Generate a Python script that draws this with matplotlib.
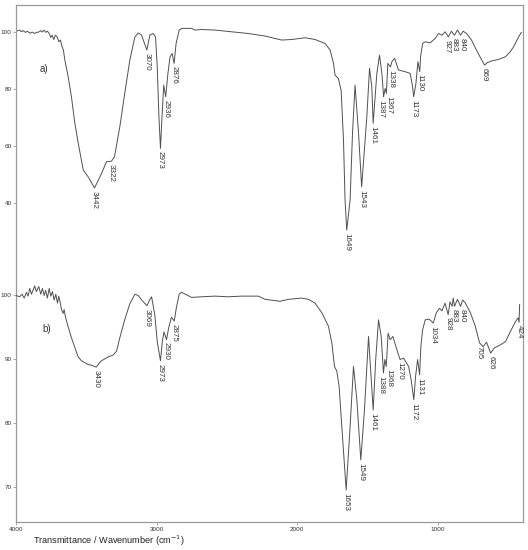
import numpy as np
import matplotlib
matplotlib.use('Agg')
import matplotlib.pyplot as plt

plt.rcParams['font.family'] = ['Liberation Sans', 'DejaVu Sans']

# --- spectrum a) ---
wn_a = [4000, 3974, 3962, 3949, 3933, 3919, 3902, 3885, 3867, 3855, 3838, 3824, 3814,
        3800, 3789, 3776, 3764, 3753, 3743, 3732, 3720, 3707, 3696, 3684, 3672, 3663,
        3653, 3629, 3606, 3582, 3558, 3522, 3487, 3442, 3392, 3357, 3322, 3300, 3262,
        3227, 3191, 3155, 3131, 3108, 3070, 3048, 3024, 3008, 2996, 2984, 2973, 2962,
        2950, 2936, 2920, 2905, 2890, 2876, 2862, 2840, 2820, 2752, 2728, 2680, 2586,
        2467, 2348, 2230, 2111, 2040, 1945, 1874, 1803, 1767, 1743, 1732, 1708, 1689,
        1672, 1661, 1649, 1625, 1608, 1590, 1565, 1543, 1506, 1487, 1471, 1461, 1435,
        1416, 1399, 1387, 1376, 1367, 1357, 1338, 1328, 1309, 1293, 1281, 1234, 1198,
        1181, 1173, 1157, 1143, 1130, 1124, 1110, 1091, 1056, 1020, 996, 972, 949, 927,
        905, 883, 862, 840, 822, 797, 762, 727, 696, 669, 652, 617, 570, 522, 487, 463,
        439, 427, 408]
tr_a = [100.2, 100.6, 100.0, 100.4, 99.8, 100.2, 99.5, 99.9, 99.4, 99.8, 99.9, 100.4, 99.9,
        100.6, 99.8, 100.2, 99.4, 98.0, 98.8, 97.3, 98.8, 98.2, 96.5, 97.1, 94.7, 93.6,
        90.1, 84.2, 77.2, 68.0, 61.0, 51.5, 49.1, 45.2, 50.3, 54.4, 54.6, 56.1, 66.7,
        78.4, 90.0, 98.2, 99.6, 98.9, 93.6, 98.9, 99.4, 98.2, 87.7, 70.2, 59.1, 70.2,
        81.3, 77.2, 85.4, 91.2, 92.4, 88.9, 95.9, 100.6, 101.2, 101.2, 100.6, 100.8, 100.6,
        100.0, 99.4, 98.5, 97.1, 97.3, 97.9, 97.3, 95.9, 93.6, 88.9, 84.8, 83.6, 79.5,
        62.0, 41.0, 30.4, 41.0, 64.4, 81.3, 64.4, 45.6, 70.2, 87.2, 80.7, 67.9, 85.4,
        91.8, 85.4, 77.2, 80.1, 78.4, 88.9, 87.7, 89.5, 90.7, 88.3, 86.6, 86.0, 85.4,
        80.7, 77.2, 81.9, 89.5, 86.0, 91.2, 95.9, 96.5, 96.1, 97.7, 99.4, 98.8, 100.0, 98.2,
        100.2, 98.8, 100.6, 98.8, 100.2, 99.4, 97.1, 93.6, 90.7, 88.3, 89.1, 89.8, 90.3, 91.2, 93.0, 94.7,
        97.1, 98.2, 99.8]
peaks_a = [3442, 3322, 3070, 2973, 2936, 2876, 1649, 1543, 1461, 1387, 1367, 1338,
           1173, 1130, 927, 883, 840, 669]

# --- spectrum b) ---
wn_b = [4000, 3974, 3957, 3942, 3926, 3914, 3902, 3890, 3878, 3867, 3855, 3838, 3824,
        3812, 3800, 3789, 3777, 3764, 3753, 3741, 3729, 3717, 3705, 3696, 3684, 3677,
        3665, 3658, 3648, 3629, 3606, 3582, 3558, 3535, 3511, 3487, 3463, 3430, 3405,
        3392, 3369, 3345, 3309, 3285, 3262, 3226, 3191, 3155, 3131, 3107, 3069, 3050,
        3036, 3013, 2996, 2973, 2960, 2948, 2930, 2915, 2895, 2875, 2860, 2840, 2823,
        2752, 2680, 2586, 2490, 2396, 2277, 2230, 2123, 2063, 1969, 1921, 1874, 1826,
        1779, 1755, 1736, 1720, 1703, 1684, 1653, 1625, 1601, 1577, 1549, 1523, 1494,
        1461, 1443, 1423, 1404, 1388, 1378, 1368, 1355, 1340, 1321, 1292, 1270, 1245,
        1209, 1191, 1172, 1160, 1145, 1131, 1122, 1110, 1091, 1063, 1034, 1012, 990,
        972, 950, 928, 915, 900, 892, 883, 862, 840, 825, 805, 770, 735, 705, 680, 655,
        626, 600, 555, 520, 485, 450, 431, 424, 420]
tr_b = [100.0, 99.8, 100.2, 99.6, 100.5, 99.9, 101.1, 100.2, 100.9, 101.5, 100.6, 101.4,
        100.2, 101.1, 100.0, 100.8, 99.6, 101.1, 99.9, 100.6, 99.3, 100.2, 98.8, 99.9,
        98.7, 97.8, 97.2, 97.8, 96.6, 95.1, 93.4, 91.9, 90.4, 89.8, 89.5, 89.2, 89.1,
        88.8, 89.5, 89.8, 90.1, 90.4, 90.7, 91.3, 93.4, 96.3, 98.7, 100.2, 100.0, 99.3,
        98.4, 99.3, 99.8, 96.9, 92.8, 89.8, 92.8, 94.3, 93.1, 94.9, 96.6, 96.0, 98.1,
        100.2, 100.5, 99.7, 99.8, 99.9, 99.8, 99.9, 99.9, 99.4, 99.1, 99.4, 99.6, 99.4,
        98.8, 97.3, 95.2, 92.6, 88.9, 88.2, 85.8, 79.5, 69.6, 79.5, 88.9, 83.7, 74.3,
        82.1, 93.6, 82.1, 90.0, 96.2, 93.6, 87.9, 90.0, 88.9, 94.1, 93.1, 93.6, 91.5,
        90.0, 90.2, 88.9, 86.8, 83.7, 87.3, 90.0, 87.6, 92.0, 94.6, 96.2, 96.3, 95.7,
        97.3, 98.0, 97.6, 98.8, 97.0, 99.0, 98.3, 99.6, 98.3, 99.4, 98.3, 99.3, 98.8,
        97.3, 95.2, 92.6, 92.0, 92.7, 91.0, 91.8, 92.3, 92.8, 94.4, 95.9, 96.5, 95.8,
        98.6]
peaks_b = [3430, 3069, 2973, 2930, 2875, 1653, 1549, 1461, 1388, 1368, 1270, 1172,
           1131, 1034, 928, 883, 840, 705, 626, 424]

# nudges (points) for crowded labels
nudge = {1387: -1.6, 1367: 1.6, 1388: -1.6, 1368: 1.6, 927: -1.2, 840: 1.2}

W, H = 528, 550
line_col = '#505050'
spine_col = '#9a9a9a'
text_col = '#333333'

fig = plt.figure(figsize=(W / 100, H / 100), dpi=100)
rect = [16 / W, 28 / H, 507 / W, 517 / H]
ax_a = fig.add_axes(rect)
ax_b = fig.add_axes(rect, sharex=ax_a)
ax_b.patch.set_visible(False)


def draw(ax, wn, tr, peaks):
    ax.plot(wn, tr, color=line_col, lw=0.7)
    wn_r = np.array(wn)[::-1]
    tr_r = np.array(tr)[::-1]
    for p in peaks:
        t = np.interp(p, wn_r, tr_r)
        ax.annotate(str(p), xy=(p, t), xytext=(nudge.get(p, 0), -2),
                    textcoords='offset points', rotation=-90, ha='center', va='top',
                    fontsize=5.8, color=text_col)


draw(ax_a, wn_a, tr_a, peaks_a)
draw(ax_b, wn_b, tr_b, peaks_b)

ax_a.set_xlim(4000, 396)
ax_a.set_ylim(-72.0, 109.4)
ax_b.set_ylim(64.6, 145.4)

ax_a.set_yticks([40, 60, 80, 100])
ax_b.set_yticks([70, 80, 90, 100])
ax_a.set_xticks([4000, 3000, 2000, 1000])

for ax in (ax_a, ax_b):
    ax.tick_params(axis='y', length=2.5, width=0.6, color=spine_col, labelsize=4.6,
                   labelcolor=text_col, pad=0.5)
ax_a.tick_params(axis='x', length=2.5, width=0.6, color=spine_col, labelsize=4.6,
                 labelcolor=text_col, pad=1)
ax_b.tick_params(axis='x', bottom=False, labelbottom=False)

for s in ax_a.spines.values():
    s.set_color(spine_col)
    s.set_linewidth(0.9)
for s in ax_b.spines.values():
    s.set_visible(False)

# panel tags, placed in figure pixels (from top-left)
fig.text(40 / W, 1 - 69 / H, 'a)', fontsize=7, color=text_col, va='center')
fig.text(42 / W, 1 - 329 / H, 'b)', fontsize=7, color=text_col, va='center')

fig.text(33 / W, 1 - 541 / H, 'Transmittance / Wavenumber (cm$^{-1}$)', fontsize=6.6,
         color='#222222', va='center', ha='left')

fig.savefig('out.png', dpi=100)
